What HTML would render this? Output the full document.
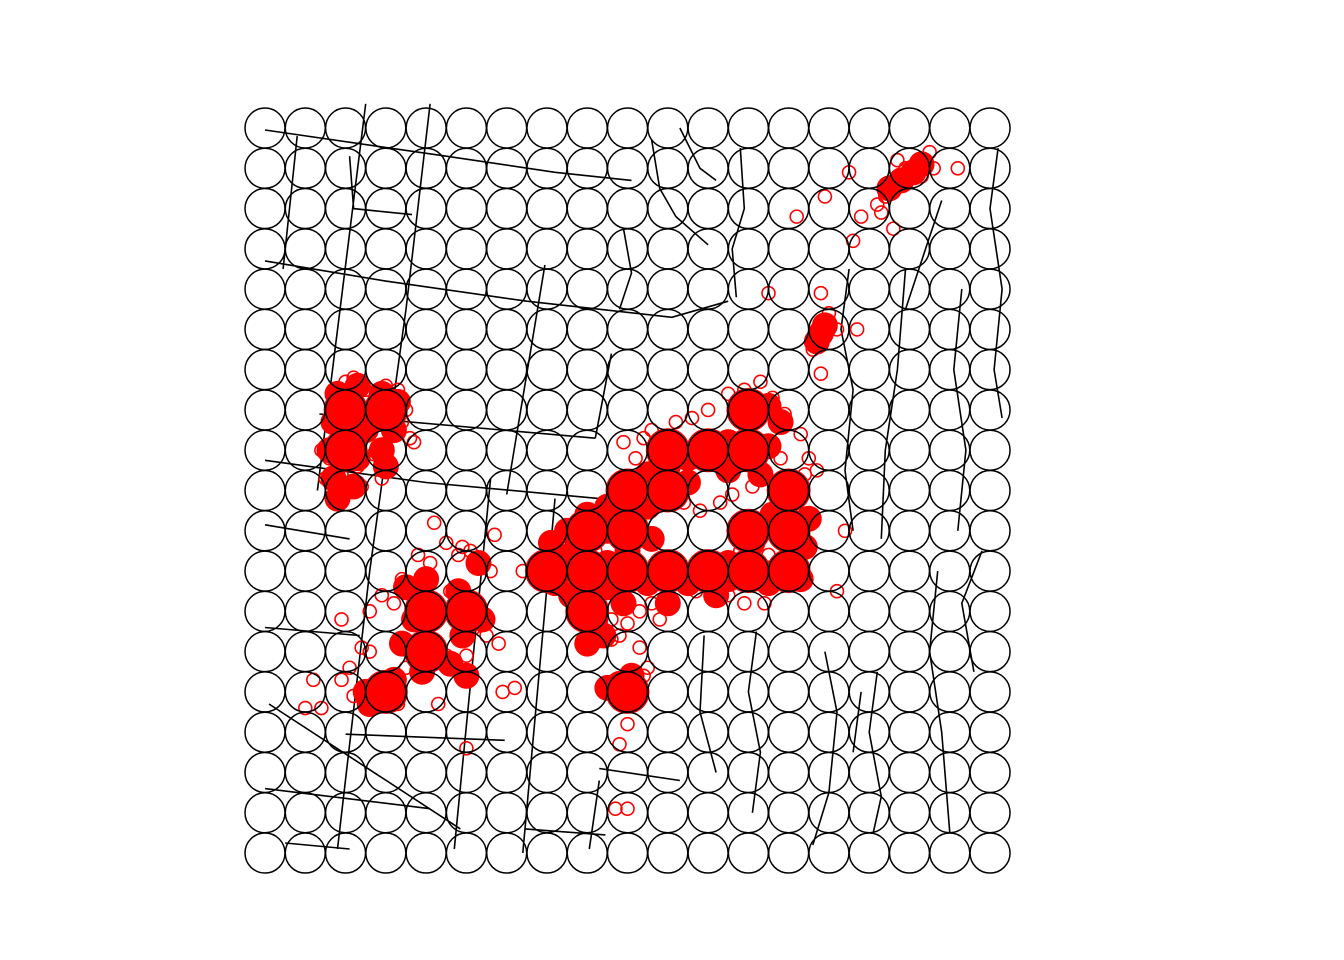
<!DOCTYPE html>
<html><head><meta charset="utf-8"><style>
html,body{margin:0;padding:0;background:#fff;}
svg{display:block;}
</style></head><body>
<svg id="chart" width="1344" height="960" viewBox="0 0 1344 960" xmlns="http://www.w3.org/2000/svg">
<g id="lines"></g>
<g id="blobs"></g>
<g id="points"></g>
<g id="filled"></g>
<g id="grid"></g>
</svg>
<script>
const nCols = 19;
const nRows = 19;
const filledCells = [[2,7],[3,7],[2,8],[12,7],[10,8],[11,8],[12,8],[9,9],[10,9],[13,9],[8,10],[9,10],[12,10],[13,10],[7,11],[8,11],[9,11],[10,11],[11,11],[12,11],[13,11],[4,12],[5,12],[8,12],[4,13],[3,14],[9,14]];
const blobX = [1.8,2.3,2.9,3.3,1.7,2.5,3.2,1.6,2.3,2.9,1.7,2.2,1.8,3.0,
7.1,7.5,8.0,8.5,9.0,9.5,10.0,10.5,11.0,11.5,12.0,12.5,12.8,12.5,11.5,10.5,9.5,8.5,7.6,7.2,7.6,8.5,9.5,10.5,11.5,12.5,13.3,13.4,13.5,12.6,12.1,11.5,11.2,8.2,8.0,8.9,10.0,9.6,8.5,9.0,12.3,13.0,
3.5,4.0,4.8,5.3,5.1,3.7,3.4,4.9,4.6,3.9,2.8,2.5,3.2,2.6,5.4,5.0,
8.8,9.1,8.5,8.0,8.4,
16.1,16.3,15.8,15.5,13.8,13.9,13.7];
const blobY = [6.6,6.4,6.6,6.8,7.3,7.5,7.5,8.0,8.2,8.0,8.7,8.9,9.2,8.4,
10.3,10.0,9.6,9.4,9.0,8.6,8.4,8.2,7.9,7.8,7.2,6.9,7.3,7.9,8.5,8.8,9.4,10.0,10.6,11.3,11.6,11.4,11.3,11.3,11.2,11.3,11.2,10.4,9.7,9.6,10.3,10.8,11.6,12.2,12.0,11.8,11.8,10.2,10.8,10.5,8.6,9.2,
11.4,11.2,11.5,10.8,11.9,12.2,12.8,12.6,13.3,13.5,14.1,14.0,13.7,14.3,12.2,13.6,
13.8,13.6,13.9,12.8,12.6,
1.1,0.9,1.3,1.5,5.1,4.9,5.3];
const pointsX = [16.0,16.2,16.4,15.9,16.3,16.6,17.2,15.6,15.4,15.3,15.6,14.6,14.8,13.2,13.9,14.5,15.7,16.5,15.9,16.1,15.5,15.2,
13.8,14.0,13.7,14.2,14.7,13.8,13.8,14.0,12.5,13.9,13.6,
2.0,2.2,2.5,1.8,1.7,2.8,3.0,3.3,3.5,3.2,2.6,1.6,1.9,2.4,2.9,3.1,3.6,2.1,1.5,1.8,3.4,3.7,2.3,2.7,1.4,
8.9,9.4,9.6,9.2,10.2,10.6,11.0,11.5,11.9,12.3,12.6,12.9,13.3,13.5,13.4,13.7,12.8,12.1,11.6,11.3,10.8,10.4,9.9,9.5,8.9,8.4,8.1,7.6,7.3,7.0,7.1,7.6,8.0,8.3,8.6,8.8,9.0,9.3,9.6,10.1,10.6,11.1,11.5,11.9,12.3,12.7,13.1,12.5,11.8,11.3,10.7,14.2,14.4,13.0,12.4,8.7,8.2,8.6,9.3,9.8,11.2,11.9,12.2,
3.8,4.2,4.8,5.3,5.6,5.1,4.5,3.6,3.2,2.9,2.6,2.4,2.1,1.9,2.2,2.8,3.3,3.9,4.4,5.0,5.5,5.8,5.2,4.6,3.4,3.0,5.9,6.2,6.4,5.7,4.9,4.1,3.5,1.2,1.9,1.0,1.4,2.6,5.0,
8.8,9.0,9.2,8.6,9.4,8.9,9.5,
4.3,4.5,8.7,9.0];
const pointsY = [1.1,0.9,0.8,1.3,1.2,1.0,1.0,1.4,1.7,2.1,2.5,2.8,2.2,2.2,1.7,1.1,0.8,0.6,1.0,1.2,1.5,1.9,
5.1,5.0,5.4,5.0,5.0,6.1,4.1,4.6,4.1,5.2,5.5,
6.3,6.2,6.5,6.9,7.4,6.6,6.4,6.5,7.0,7.4,7.5,8.2,8.6,8.9,8.7,8.3,7.7,9.0,8.7,9.2,7.3,7.8,8.4,8.1,8.0,
7.8,7.7,7.5,8.2,7.3,7.2,7.0,6.6,6.5,6.3,6.7,7.1,7.6,8.2,8.6,8.5,8.2,8.9,9.1,9.3,9.5,9.3,9.1,8.9,9.0,9.4,9.8,10.1,10.3,10.5,11.2,11.5,11.7,11.9,12.2,12.6,12.3,12.0,11.8,11.7,11.4,11.5,11.6,11.8,11.2,11.0,10.9,10.6,10.5,10.9,11.5,11.5,10.0,11.0,11.8,9.5,10.5,12.7,12.9,12.2,11.6,11.2,10.1,10.6,9.8,
10.6,10.9,11.0,10.5,10.3,11.4,11.8,11.6,12.0,12.9,13.4,13.7,14.1,14.0,14.3,13.6,13.2,13.1,12.6,12.8,12.4,11.5,11.2,14.1,14.0,13.9,11.0,10.1,10.4,10.8,13.4,13.7,12.2,14.4,14.4,13.0,15.4,15.3,14.8,
13.7,13.9,13.6,13.9,13.4,14.3,13.1,
16.9,16.9,12.5,12.8];
const roads = [
 [[0,0.05],[4.5,0.7],[7.2,1.1],[9.1,1.3]],
 [[0,3.3],[3,3.8],[6.5,4.3],[10.1,4.7],[11.5,4.3]],
 [[0,8.25],[4,8.8],[8.3,9.2]],
 [[0,9.85],[2.1,10.2]],
 [[0,12.4],[2.35,12.6]],
 [[0.8,0.2],[0.45,3.5]],
 [[2,3.4],[1.3,9.0]],
 [[2.5,-0.6],[2,3.4]],
 [[3.5,4.5],[2.6,11],[1.8,17.9]],
 [[4.1,-0.6],[3.5,4.5]],
 [[6.95,3.4],[6.0,9.1]],
 [[5.6,8.7],[4.7,17.9]],
 [[7.2,9.2],[6.4,18]],
 [[8.6,5.6],[8.2,7.7]],
 [[1.35,7.1],[8.2,7.7]],
 [[2.1,0.7],[2.2,2],[3.65,2.15]],
 [[0.1,14.3],[4.85,17.4]],
 [[8.3,15.9],[10.3,16.2]],
 [[0,16.4],[4.1,16.9]],
 [[0.5,17.75],[2.1,17.9]],
 [[6.45,17.4],[8.45,17.55]],
 [[2,15.05],[5.95,15.2]],
 [[8.3,16.2],[8.05,17.9]],
 [[11.8,0.5],[11.9,2],[11.6,3],[11.7,4.2]],
 [[14.5,3.5],[14.3,5],[14.6,6.5],[14.4,8.5],[14.6,10]],
 [[15.9,3.5],[15.7,6],[15.4,8],[15.3,10.2]],
 [[16.8,1.8],[16.4,3],[15.9,4.5]],
 [[18.2,0.5],[18.0,2],[18.3,4],[18.1,6],[18.3,7.2]],
 [[17.3,4],[17.1,6],[17.4,8],[17.2,10]],
 [[9.6,0.3],[9.8,1.5],[10.2,2.2],[11,2.9]],
 [[10.3,0],[10.8,1],[11.2,1.3]],
 [[8.9,2.5],[9.1,3.6],[8.8,4.5]],
 [[12.2,12.5],[12.0,14],[12.3,15.5],[12.1,17]],
 [[13.9,13],[14.2,14.5],[14.0,16.5],[13.6,17.8]],
 [[15.2,13.5],[15.0,15],[15.3,16.6],[15.1,17.5]],
 [[16.7,11],[16.5,13],[16.8,15],[17.0,17.5]],
 [[10.9,12.6],[10.8,14.5],[11.2,16]],
 [[14.8,14],[14.6,15.5]],
 [[17.8,10.5],[17.3,11.8],[17.6,13.5]]
];
const X0 = 265, Y0 = 128, STEP = 40.28;
function sx(c){ return X0 + c*STEP; }
function sy(r){ return Y0 + r*STEP; }
const NS = 'http://www.w3.org/2000/svg';
const gl = document.getElementById('lines');
roads.forEach(function(rd){
  const p = document.createElementNS(NS,'polyline');
  p.setAttribute('points', rd.map(function(q){return sx(q[0]).toFixed(1)+','+sy(q[1]).toFixed(1);}).join(' '));
  p.setAttribute('fill','none'); p.setAttribute('stroke','#000'); p.setAttribute('stroke-width','1.6');
  
  
  gl.appendChild(p);
});
const gb = document.getElementById('blobs');
for (let i=0;i<blobX.length;i++){
  const c = document.createElementNS(NS,'circle');
  c.setAttribute('cx', sx(blobX[i])); c.setAttribute('cy', sy(blobY[i])); c.setAttribute('r', 13);
  c.setAttribute('fill','#f00');
  
  
  gb.appendChild(c);
}
const gf = document.getElementById('filled');
filledCells.forEach(function(fc){
  const c = document.createElementNS(NS,'circle');
  c.setAttribute('cx', sx(fc[0])); c.setAttribute('cy', sy(fc[1])); c.setAttribute('r', 22);
  c.setAttribute('fill','#f00');
  
  
  gf.appendChild(c);
});
const gp = document.getElementById('points');
for (let i=0;i<pointsX.length;i++){
  const c = document.createElementNS(NS,'circle');
  c.setAttribute('cx', sx(pointsX[i])); c.setAttribute('cy', sy(pointsY[i])); c.setAttribute('r', 6.5);
  c.setAttribute('fill','none'); c.setAttribute('stroke','#f00'); c.setAttribute('stroke-width','1.6');
  
  
  gp.appendChild(c);
}
const gg = document.getElementById('grid');
for (let r=0;r<nRows;r++){
  for (let k=0;k<nCols;k++){
    const c = document.createElementNS(NS,'circle');
    c.setAttribute('cx', sx(k)); c.setAttribute('cy', sy(r)); c.setAttribute('r', 20);
    c.setAttribute('fill','none'); c.setAttribute('stroke','#000'); c.setAttribute('stroke-width','1.5');
    
    
    gg.appendChild(c);
  }
}
</script>
</body></html>
